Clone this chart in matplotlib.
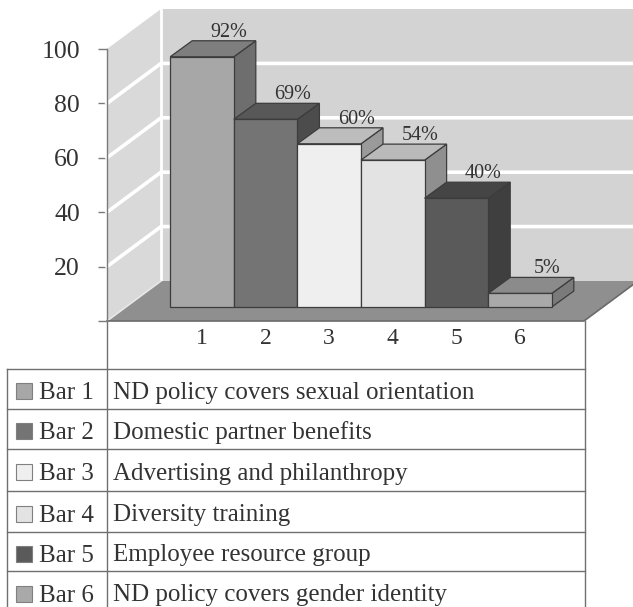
import matplotlib
matplotlib.use("Agg")
import matplotlib.pyplot as plt
import matplotlib.transforms as mtransforms
from matplotlib.patches import Polygon

plt.rcParams['font.family'] = ['Liberation Serif', 'DejaVu Serif']

# ---- data ----
categories = ["1", "2", "3", "4", "5", "6"]
values = [92, 69, 60, 54, 40, 5]
value_labels = ["92%", "69%", "60%", "54%", "40%", "5%"]
legend_keys = ["Bar 1", "Bar 2", "Bar 3", "Bar 4", "Bar 5", "Bar 6"]
legend_texts = ["ND policy covers sexual orientation", "Domestic partner benefits",
                "Advertising and philanthropy", "Diversity training",
                "Employee resource group", "ND policy covers gender identity"]
y_ticks = [0, 20, 40, 60, 80, 100]
y_tick_labels = ["", "20", "40", "60", "80", "100"]

# ---- styles ----
front_cols = ["#a7a7a7", "#747474", "#efefef", "#e3e3e3", "#5a5a5a", "#a9a9a9"]
top_cols = ["#7e7e7e", "#585858", "#bdbdbd", "#bababa", "#454545", "#8b8b8b"]
side_cols = ["#6e6e6e", "#4c4c4c", "#9a9a9a", "#8f8f8f", "#3f3f3f", "#7a7a7a"]
edge = "#3c3c3c"
txt = "#333333"

W, H, DPI = 633, 607, 100
fig = plt.figure(figsize=(W / DPI, H / DPI), dpi=DPI)
fig.patch.set_facecolor("white")

# overlay axes in pixel coords for the legend table
tab = fig.add_axes([0, 0, 1, 1])
tab.set_xlim(0, W)
tab.set_ylim(H, 0)
tab.axis("off")

# main chart axes (front plane)
x_left_px, x_right_px = 107, 584
y0_px, y100_px = 321, 49
ax = fig.add_axes([x_left_px / W, (H - y0_px) / H,
                   (x_right_px - x_left_px) / W, (y0_px - y100_px) / H])
ax.set_xlim(-0.195, 7.305)
ax.set_ylim(0, 100)
ax.patch.set_visible(False)
for s in ["top", "right", "bottom"]:
    ax.spines[s].set_visible(False)
ax.spines["left"].set_color("#7a7a7a")
ax.spines["left"].set_linewidth(1.0)
ax.spines["left"].set_zorder(30)

fig.canvas.draw()
ident = mtransforms.IdentityTransform()

depth_total = (54, 40)
bar_shift = (19, 14)
bar_depth = (22, 16)


def P(x, y, d=(0, 0)):
    X, Y = ax.transData.transform((x, y))
    return (X + d[0], Y + d[1])


def poly(pts, **kw):
    p = Polygon(pts, closed=True, transform=ident, clip_on=False, **kw)
    ax.add_patch(p)
    return p


xl, xr = ax.get_xlim()
D = depth_total
# left wall
poly([P(xl, 0), P(xl, 100), P(xl, 100, D), P(xl, 0, D)], facecolor="#d9d9d9",
     edgecolor="none", zorder=1)
# back wall
poly([P(xl, 0, D), P(xl, 100, D), P(xr + 2, 100, D), P(xr + 2, 0, D)],
     facecolor="#d3d3d3", edgecolor="none", zorder=1)
# gridlines
for v in [20, 40, 60, 80]:
    a, b = P(xl, v), P(xl, v, D)
    c = P(xr + 2, v, D)
    ax.add_line(plt.Line2D([a[0], b[0], c[0]], [a[1], b[1], c[1]], transform=ident,
                           color="white", lw=2.6, clip_on=False, zorder=2))
# corner line
a, b = P(xl, 0, D), P(xl, 100, D)
ax.add_line(plt.Line2D([a[0], b[0]], [a[1], b[1]], transform=ident, color="white",
                       lw=2.0, clip_on=False, zorder=2))
# floor
poly([P(xl, 0), P(xr, 0), P(xr, 0, D), P(xl, 0, D)], facecolor="#8f8f8f",
     edgecolor="none", zorder=3)
a, b = P(xl, 0), P(xl, 0, D)
ax.add_line(plt.Line2D([a[0], b[0]], [a[1], b[1]], transform=ident, color="#e8e8e8",
                       lw=1.2, clip_on=False, zorder=3))
a, b, c = P(xl, 0), P(xr, 0), P(xr, 0, D)
ax.add_line(plt.Line2D([a[0], b[0], c[0]], [a[1], b[1], c[1]], transform=ident,
                       color="#6a6a6a", lw=1.2, clip_on=False, zorder=4))

# bars
xs = [i + 1 for i in range(len(values))]
shift = mtransforms.ScaledTranslation(bar_shift[0] / DPI, bar_shift[1] / DPI,
                                      fig.dpi_scale_trans)
bars = ax.bar(xs, values, width=1.0, color=front_cols, edgecolor=edge, linewidth=0.9,
              transform=ax.transData + shift, clip_on=False)
for i, (x, v) in enumerate(zip(xs, values)):
    s0 = bar_shift
    s1 = (bar_shift[0] + bar_depth[0], bar_shift[1] + bar_depth[1])
    # side
    poly([P(x + 0.5, 0, s0), P(x + 0.5, v, s0), P(x + 0.5, v, s1), P(x + 0.5, 0, s1)],
         facecolor=side_cols[i], edgecolor=edge, lw=0.9, zorder=10 + 3 * i)
    # top
    poly([P(x - 0.5, v, s0), P(x + 0.5, v, s0), P(x + 0.5, v, s1), P(x - 0.5, v, s1)],
         facecolor=top_cols[i], edgecolor=edge, lw=0.9, zorder=10 + 3 * i)
    bars[i].set_zorder(11 + 3 * i)
    # value label
    lx, ly = P(x, v, (46, 34))
    ax.text(lx, ly, value_labels[i], transform=ident, ha="center", va="baseline",
            fontsize=14.5, color=txt, zorder=40)

# y ticks
ax.set_yticks(y_ticks)
ax.set_yticklabels(y_tick_labels, fontsize=18.5, color=txt)
ax.tick_params(axis="y", length=6.5, width=1, color="#7a7a7a", pad=13)
# x ticks (category labels under the bars' front faces)
ppx = ax.transData.transform((1, 0))[0] - ax.transData.transform((0, 0))[0]
ax.set_xticks([x + bar_shift[0] / ppx for x in xs])
ax.set_xticklabels(categories, fontsize=17, color=txt)
ax.tick_params(axis="x", length=0, pad=5)

# legend table
lc = "#707070"
row_lines = [369, 409, 449, 491, 532, 571]
row_bottom = 612
tab.plot([107, 107], [y0_px, H], color=lc, lw=1)
tab.plot([585, 585], [y0_px, H], color=lc, lw=1)
tab.plot([7, 7], [row_lines[0], H], color=lc, lw=1)
for yl in row_lines:
    tab.plot([7, 585], [yl, yl], color=lc, lw=1)
edges_y = row_lines + [row_bottom]
for i in range(len(legend_keys)):
    yc = (edges_y[i] + edges_y[i + 1]) / 2
    tab.add_patch(plt.Rectangle((16, yc - 6), 16, 16, facecolor=front_cols[i],
                                edgecolor="#808080", lw=0.8))
    tab.text(39, yc + 10, legend_keys[i], fontsize=18, va="baseline", ha="left", color=txt)
    tab.text(113, yc + 10, legend_texts[i], fontsize=18, va="baseline", ha="left", color=txt)

fig.savefig("out.png", dpi=DPI)
